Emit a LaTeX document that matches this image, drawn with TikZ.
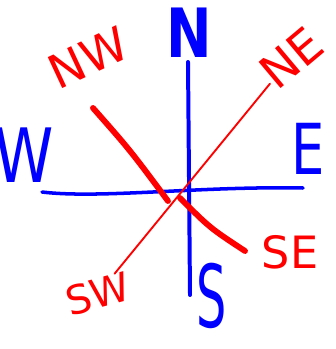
\documentclass[tikz,border=0pt]{standalone}
\usepackage{fontspec}
\setmainfont{DejaVu Sans}
\begin{document}
\begin{tikzpicture}[x=0.03cm,y=-0.03cm,
  axis/.style={draw=blue,line width=3pt,line cap=round},
  diag/.style={draw=red,line width=1.6pt,line cap=round},
  thick diag/.style={draw=red,line width=5pt,line cap=round},
  lbl/.style={inner sep=0pt,font=\fontsize{40}{40}\selectfont}]
\useasboundingbox (0,0) rectangle (335,349);
% end points of the axes
\coordinate (ntop) at (188,62);\coordinate (sbot) at (190,295);
\coordinate (wend) at (42,192);\coordinate (eend) at (303,188);
\coordinate (nwend) at (93,108);\coordinate (cutA) at (168,201);
\coordinate (cutB) at (180,198);\coordinate (seend) at (245,251);
% labels
\node[lbl,blue,font=\fontsize{58}{58}\bfseries,xscale=0.8] (n) at (189,33) {N};
\node[lbl,blue,font=\fontsize{74}{74}\selectfont,xscale=0.55] (s) at (212,296) {S};
\node[lbl,blue,font=\fontsize{60}{60}\selectfont,xscale=0.75] (e) at (308,149) {E};
\node[lbl,blue,font=\fontsize{64}{64}\selectfont,xscale=0.8] (w) at (24,155) {W};
\node[lbl,red,rotate=25] (nw) at (88,58) {NW};
\node[lbl,red,rotate=40] (ne) at (291,58) {NE};
\node[lbl,red,font=\fontsize{38}{38}\selectfont] (se) at (290,252) {SE};
\node[lbl,red,rotate=15,font=\fontsize{34}{34}\selectfont] (sw) at (98,294) {SW};
% compass lines
\draw[axis,line width=3.4pt] (ntop)--(sbot);
\draw[axis] (wend) .. controls (100,199) and (200,186) .. (eend);
\draw[diag] (ne)--(sw);
\draw[thick diag] (nwend) .. controls (130,150) .. (cutA);
\draw[thick diag] (cutB) .. controls (210,228) .. (seend);
\end{tikzpicture}
\end{document}
